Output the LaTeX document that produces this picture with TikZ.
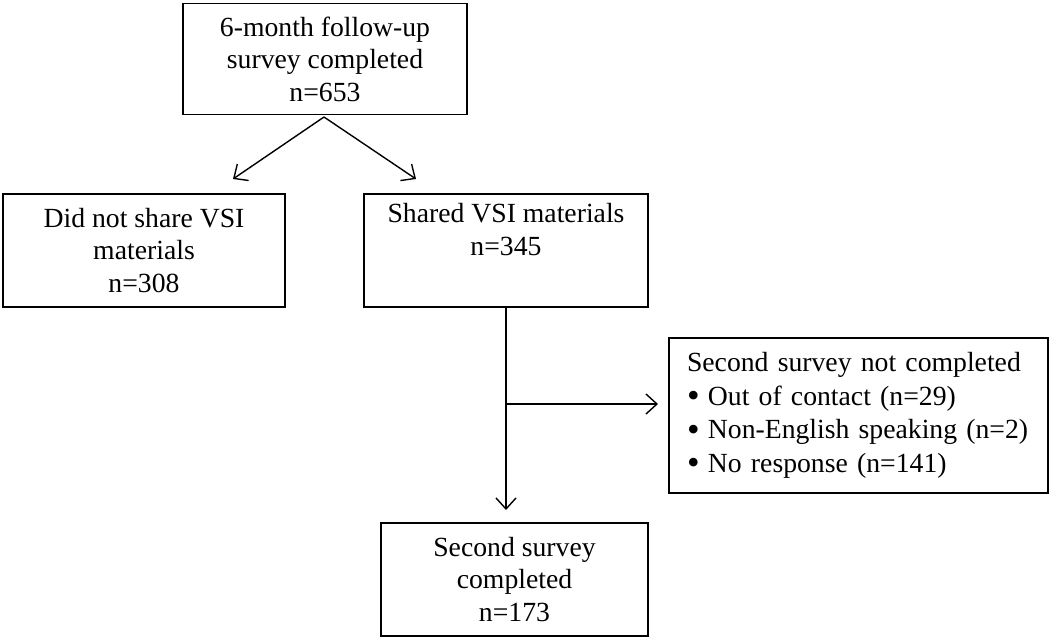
\documentclass[tikz,border=0pt]{standalone}
\usepackage{fontspec}
\setmainfont{Liberation Serif}
\usetikzlibrary{arrows.meta,calc}
\newcommand\bigbul{{\fontsize{36}{0}\selectfont\raisebox{-0.06em}{\textbullet}}\hspace{0.3em}}
\begin{document}
\begin{tikzpicture}[x=1pt,y=-1pt,
  box/.style={draw, line width=1.6pt, inner sep=0pt, outer sep=0pt, align=center,
    font=\fontsize{27.7}{32.5}\selectfont},
  conn/.style={line width=1.4pt, -{Straight Barb[length=11pt,width=20pt,line width=1.4pt]}}]
\useasboundingbox (0,0) rectangle (1050,638);
\fill[white] (0,0) rectangle (1050,638);
\node[box, minimum width=284, minimum height=111] (top) at (325,59)
  {6-month follow-up\\survey completed\\n=653};
\node[box, minimum width=282, minimum height=113] (nos) at (144,250.5)
  {Did not share VSI\\materials\\n=308};
\node[box, minimum width=284, minimum height=113] (sh) at (506,250.5)
  {Shared VSI materials\\n=345\\ \strut};
\node[box, minimum width=379, minimum height=155, align=left, inner xsep=18pt, text width=343pt,
  font=\fontsize{27.7}{33.5}\selectfont] (nc) at (858.5,415.5)
  {Second survey not completed\\
   \bigbul Out of contact (n=29)\\
   \bigbul Non-English speaking (n=2)\\
   \bigbul No response (n=141)};
\node[box, minimum width=267, minimum height=113] (sc) at (514.5,579.5)
  {Second survey\\completed\\n=173};
\coordinate (apex) at ($(top.south)+(-1,2.5)$);
\coordinate (tipL) at (233,179);
\coordinate (tipR) at (416,179);
\coordinate (split) at ($(sh.south)+(0,97)$);
\coordinate (tipD) at ($(sh.south)+(0,203)$);
\coordinate (tipE) at ($(nc.west)+(-11,-11.5)$);
\draw[conn] (apex) -- (tipL);
\draw[conn] (apex) -- (tipR);
\draw[conn] (sh.south) -- (tipD);
\draw[conn] (split) -- (tipE);
\end{tikzpicture}
\end{document}
